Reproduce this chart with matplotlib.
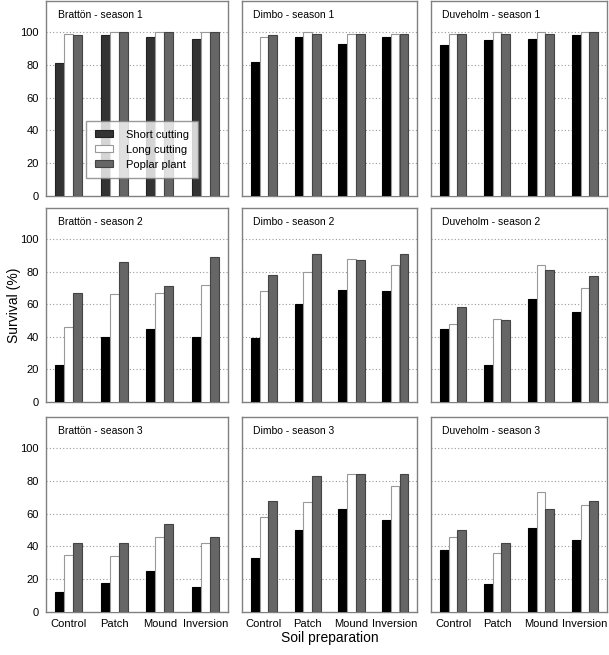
import numpy as np
import matplotlib
matplotlib.use("Agg")
import matplotlib.pyplot as plt

plt.rcParams['font.family'] = ['Liberation Sans', 'DejaVu Sans']

# soil preparation categories and series
categories = ['Control', 'Patch', 'Mound', 'Inversion']
series = ['Short cutting', 'Long cutting', 'Poplar plant']
sites = ['Brattön', 'Dimbo', 'Duveholm']
seasons = [1, 2, 3]

# survival (%), [short, long, poplar] per category
bratton_s1 = [[81, 98, 97, 96], [99, 100, 100, 100], [98, 100, 100, 100]]
dimbo_s1 = [[82, 97, 93, 97], [97, 100, 99, 99], [98, 99, 99, 99]]
duveholm_s1 = [[92, 95, 96, 98], [99, 100, 100, 100], [99, 99, 99, 100]]

bratton_s2 = [[23, 40, 45, 40], [46, 66, 67, 72], [67, 86, 71, 89]]
dimbo_s2 = [[39, 60, 69, 68], [68, 80, 88, 84], [78, 91, 87, 91]]
duveholm_s2 = [[45, 23, 63, 55], [48, 51, 84, 70], [58, 50, 81, 77]]

bratton_s3 = [[12, 18, 25, 15], [35, 34, 46, 42], [42, 42, 54, 46]]
dimbo_s3 = [[33, 50, 63, 56], [58, 67, 84, 77], [68, 83, 84, 84]]
duveholm_s3 = [[38, 17, 51, 44], [46, 36, 73, 65], [50, 42, 63, 68]]

data = [[bratton_s1, dimbo_s1, duveholm_s1],
        [bratton_s2, dimbo_s2, duveholm_s2],
        [bratton_s3, dimbo_s3, duveholm_s3]]

W, H = 609, 655
fig = plt.figure(figsize=(W / 100, H / 100), dpi=100)

# panel boxes in pixels
col_left = [46, 242, 431]
col_w = [182, 175, 176]
row_top = [1, 208, 417]
row_h = [195, 194, 195]

fills = ['black', 'white', '#666666']
edges = ['black', '#999999', '#444444']
bw = 0.2
x = np.arange(len(categories))

for r in range(3):
    for c in range(3):
        ax = fig.add_axes([col_left[c] / W, 1 - (row_top[r] + row_h[r]) / H,
                           col_w[c] / W, row_h[r] / H])
        vals = data[r][c]
        for k in range(3):
            fc = fills[k]
            ec = edges[k]
            if r == 0 and c == 0 and k == 0:
                fc = '#333333'
                ec = '#222222'
            ax.bar(x + (k - 1) * bw, vals[k], width=bw, color=fc,
                   edgecolor=ec, linewidth=0.8, label=series[k], zorder=3)
        ax.set_xlim(-0.5, 3.5)
        ax.set_ylim(0, 119)
        ax.set_yticks([0, 20, 40, 60, 80, 100])
        for g in [20, 40, 60, 80, 100]:
            ax.axhline(g, color='#999999', linestyle=(0, (1, 2)),
                       linewidth=0.8, zorder=1)
        for sp in ax.spines.values():
            sp.set_color('#808080')
            sp.set_linewidth(1.0)
        ax.tick_params(length=0, labelsize=8, pad=5)
        ax.set_xticks(x)
        if r == 2:
            ax.set_xticklabels(categories)
        else:
            ax.set_xticklabels([])
        if c != 0:
            ax.set_yticklabels([])
        ax.text(0.065, 0.928, '%s - season %d' % (sites[c], seasons[r]),
                transform=ax.transAxes, fontsize=7.5, va='center', ha='left')
        if r == 0 and c == 0:
            leg = ax.legend(loc='lower left', bbox_to_anchor=(0.22, 0.09),
                            borderaxespad=0, fontsize=8, frameon=True,
                            fancybox=False, handlelength=1.6, handleheight=0.6,
                            handletextpad=1.2, labelspacing=0.45,
                            borderpad=0.8)
            leg.get_frame().set_edgecolor('#808080')
            leg.get_frame().set_linewidth(1.0)
            leg.set_zorder(5)

fig.text(14 / W, 1 - 305 / H, 'Survival (%)', rotation=90, fontsize=10,
         ha='center', va='center')
fig.text(330 / W, 1 - 638 / H, 'Soil preparation', fontsize=10,
         ha='center', va='center')

fig.savefig('out.png', dpi=100)
